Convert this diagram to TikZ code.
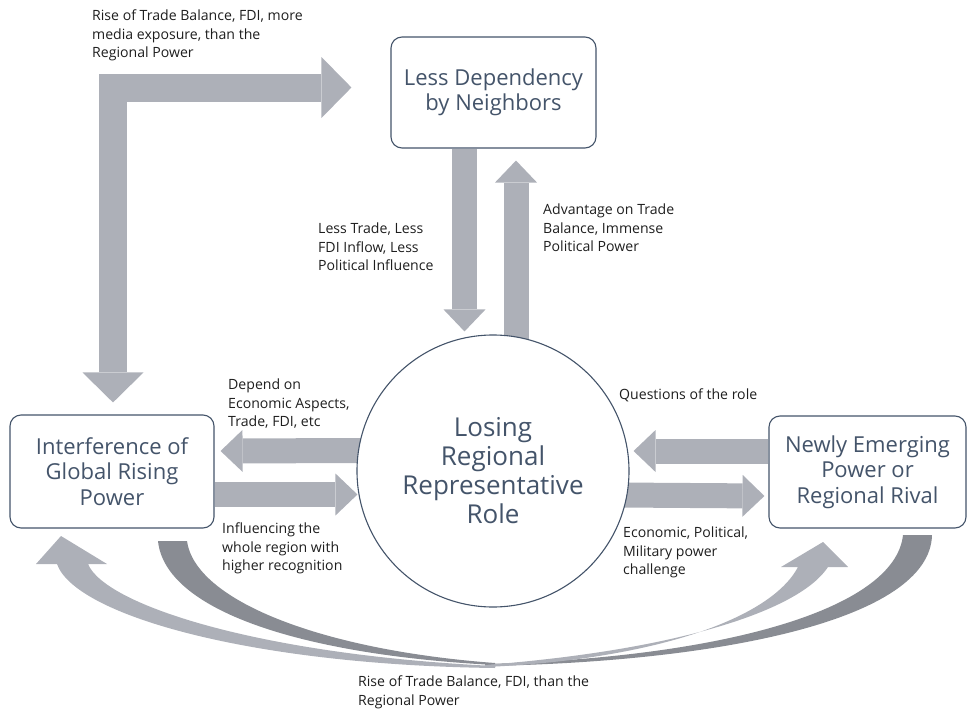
\documentclass[tikz,border=0pt]{standalone}
\usepackage{fontspec}
\setmainfont{Open Sans}
\usetikzlibrary{arrows.meta}
\definecolor{arrowgray}{RGB}{173,176,184}
\definecolor{darkband}{RGB}{137,140,147}
\definecolor{edgecol}{RGB}{68,84,106}
\definecolor{labelcol}{RGB}{30,30,30}
\pgfdeclarelayer{bg}
\pgfsetlayers{bg,main}
\begin{document}
\begin{tikzpicture}[x=1pt,y=-1pt,
  box/.style={draw=edgecol, line width=1.1pt, rounded corners=11pt, fill=white,
    text=edgecol, align=center, inner sep=0pt, font=\fontsize{22}{25.5}\selectfont},
  rolecircle/.style={circle, draw=edgecol, line width=1.1pt, fill=white, minimum size=272pt,
    inner sep=0pt, text=edgecol, align=center, font=\fontsize{26}{29}\selectfont},
  lbl/.style={anchor=north west, inner sep=0pt, align=left, text=labelcol,
    font=\fontsize{14.1}{18.5}\selectfont},
  fat/.style={draw=arrowgray, line width=25pt,
    -{Triangle[width=42pt,length=22pt,line width=0pt]}},
  bigfat/.style={draw=arrowgray, line width=28pt, line join=miter,
    {Triangle[width=61pt,length=30pt,line width=0pt]}-{Triangle[width=61pt,length=30pt,line width=0pt]}},
  lightband/.style={fill=arrowgray, draw=none},
  darkbandstyle/.style={fill=darkband, draw=none}]
\useasboundingbox (0,0) rectangle (967,712);

% nodes
\node[box, minimum width=205pt, minimum height=111pt] (nbr) at (493.5,92.5) {Less Dependency\\by Neighbors};
\node[box, minimum width=204pt, minimum height=113pt] (glob) at (112,471.5) {Interference of\\Global Rising\\Power};
\node[box, minimum width=197pt, minimum height=112pt] (rival) at (867.5,472) {Newly Emerging\\Power or\\Regional Rival};
\node[rolecircle] (role) at (493,471) {Losing\\Regional\\Representative\\Role};

\begin{pgfonlayer}{bg}
% L-shaped double arrow
\draw[bigfat] ([xshift=1pt,yshift=12pt]glob.north) |- ([xshift=-39pt,yshift=5pt]nbr.west);
% vertical arrows
\draw[fat] ([xshift=-29pt]nbr.south) -- ([xshift=-28.5pt,yshift=3pt]role.north);
\draw[fat] ([xshift=23pt,yshift=-12pt]role.north) -- ([xshift=22.5pt,yshift=-12pt]nbr.south);
% left arrows
\draw[fat] ([xshift=12pt,yshift=20.5pt]role.west) -- ([xshift=6pt,yshift=20.5pt]glob.east);
\draw[fat] ([yshift=-23pt]glob.east) -- ([xshift=1pt,yshift=-23.5pt]role.west);
% right arrows
\draw[fat] ([yshift=21pt]rival.west) -- ([xshift=4pt,yshift=20pt]role.east);
\draw[fat] ([xshift=-12pt,yshift=-24pt]role.east) -- ([xshift=-4pt,yshift=-24pt]rival.west);

% bottom curved bands
\fill[darkbandstyle] (158,541) -- (187,541) .. controls (195,600) and (320,650) .. (495,663)
  -- (495,665) .. controls (300,655) and (165,610) .. (158,541) -- cycle;
\fill[darkbandstyle] (903,535) -- (932,535) .. controls (930,620) and (720,662) .. (485,666)
  -- (485,664) .. controls (720,658) and (895,610) .. (903,535) -- cycle;
\fill[lightband] (61,536) -- (107,564) -- (88,564) .. controls (105,605) and (260,655) .. (495,666)
  -- (495,668) .. controls (250,665) and (75,615) .. (57,564) -- (36,564) -- cycle;
\fill[lightband] (823,542) -- (848,567) -- (828,567) .. controls (800,610) and (680,650) .. (485,665)
  -- (485,667) .. controls (650,660) and (770,620) .. (798,567) -- (781,567) -- cycle;
\end{pgfonlayer}

% labels
\node[lbl] (l1) at (92,10) {Rise of Trade Balance, FDI, more\\media exposure, than the\\Regional Power};
\node[lbl] (l2) at (318,223) {Less Trade, Less\\FDI Inflow, Less\\Political Influence};
\node[lbl] (l3) at (543,204) {Advantage on Trade\\Balance, Immense\\Political Power};
\node[lbl] (l4) at (228,379) {Depend on\\Economic Aspects,\\Trade, FDI, etc};
\node[lbl] (l5) at (222,523) {Influencing the\\whole region with\\higher recognition};
\node[lbl] (l6) at (619,389) {Questions of the role};
\node[lbl] (l7) at (623,527) {Economic, Political,\\Military power\\challenge};
\node[lbl] (l8) at (358,676) {Rise of Trade Balance, FDI, than the\\Regional Power};
\end{tikzpicture}
\end{document}
